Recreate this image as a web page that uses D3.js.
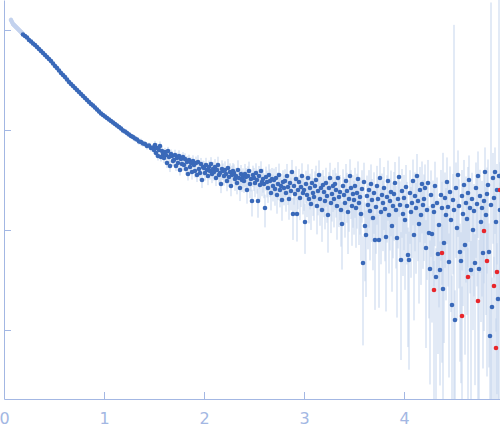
<!DOCTYPE html>
<html>
<head>
<meta charset="utf-8">
<script src="https://cdn.jsdelivr.net/npm/d3@7"></script>
<style>
body { margin: 0; background: #fff; }
.axis path, .axis line { stroke: #a3b7e3; }
.axis text { fill: #a3b7e3; font-size: 16px; font-family: "DejaVu Sans", sans-serif; }
</style>
</head>
<body>
<svg width="500" height="437"></svg>
<script>
//excluded points at the start of the curve (drawn light)
var excludedQ = [0.07,0.08,0.09,0.10,0.11,0.12,0.13,0.14,0.15,0.16,0.17,0.18];
var excludedLogI = [0.10,0.08,0.06,0.05,0.04,0.03,0.02,0.01,0.00,-0.01,-0.02,-0.03];
var excludedErr = [0.06,0.06,0.05,0.05,0.05,0.04,0.04,0.04,0.04,0.03,0.03,0.03];

//main curve: q, log10 intensity, relative error
var q = [
 0.19,0.21,0.23,0.25,0.27,0.29,0.31,0.33,0.35,0.37,0.39,0.41,0.43,0.45,0.47,0.49,0.51,0.53,0.55,0.57,0.59,0.61,
 0.63,0.65,0.67,0.69,0.71,0.73,0.75,0.77,0.79,0.81,0.83,0.85,0.87,0.89,0.91,0.93,0.95,0.97,0.99,1.01,1.03,1.05,
 1.07,1.09,1.11,1.13,1.15,1.17,1.19,1.21,1.23,1.25,1.27,1.29,1.31,1.33,1.35,1.37,1.39,1.41,1.43,1.45,1.47,1.49,
 1.50,1.51,1.52,1.53,1.54,1.55,1.56,1.57,1.58,1.59,
 1.60,1.61,1.62,1.63,1.64,1.65,1.66,1.67,1.68,1.69,
 1.70,1.71,1.72,1.73,1.74,1.75,1.76,1.77,1.78,1.79,
 1.80,1.81,1.82,1.83,1.84,1.85,1.86,1.87,1.88,1.89,
 1.90,1.91,1.92,1.93,1.94,1.95,1.96,1.97,1.98,1.99,
 2.00,2.01,2.02,2.03,2.04,2.05,2.06,2.07,2.08,2.09,
 2.10,2.11,2.12,2.13,2.14,2.15,2.16,2.17,2.18,2.19,
 2.20,2.21,2.22,2.23,2.24,2.25,2.26,2.27,2.28,2.29,
 2.30,2.31,2.32,2.33,2.34,2.35,2.36,2.37,2.38,2.39,
 2.40,2.41,2.42,2.43,2.44,2.45,2.46,2.47,2.48,2.49,
 2.50,2.51,2.52,2.53,2.54,2.55,2.56,2.57,2.58,2.59,
 2.60,2.61,2.62,2.63,2.64,2.65,2.66,2.67,2.68,2.69,
 2.70,2.71,2.72,2.73,2.74,2.75,2.76,2.77,2.78,2.79,
 2.80,2.81,2.82,2.83,2.84,2.85,2.86,2.87,2.88,2.89,
 2.90,2.91,2.92,2.93,2.94,2.95,2.96,2.97,2.98,2.99,
 3.00,3.01,3.02,3.03,3.04,3.05,3.06,3.07,3.08,3.09,
 3.10,3.11,3.12,3.13,3.14,3.15,3.16,3.17,3.18,3.19,
 3.20,3.21,3.22,3.23,3.24,3.25,3.26,3.27,3.28,3.29,
 3.30,3.31,3.32,3.33,3.34,3.35,3.36,3.37,3.38,3.39,
 3.40,3.41,3.42,3.43,3.44,3.45,3.46,3.47,3.48,3.49,
 3.50,3.51,3.52,3.53,3.54,3.55,3.56,3.57,3.58,3.59,
 3.60,3.61,3.62,3.63,3.64,3.65,3.66,3.67,3.68,3.69,
 3.70,3.71,3.72,3.73,3.74,3.75,3.76,3.77,3.78,3.79,
 3.80,3.81,3.82,3.83,3.84,3.85,3.86,3.87,3.88,3.89,
 3.90,3.91,3.92,3.93,3.94,3.95,3.96,3.97,3.98,3.99,
 4.00,4.01,4.02,4.03,4.04,4.05,4.06,4.07,4.08,4.09,
 4.10,4.11,4.12,4.13,4.14,4.15,4.16,4.17,4.18,4.19,
 4.20,4.21,4.22,4.23,4.24,4.25,4.26,4.27,4.28,4.29,
 4.30,4.31,4.32,4.33,4.34,4.35,4.36,4.37,4.38,4.39,
 4.40,4.41,4.42,4.43,4.44,4.45,4.46,4.47,4.48,4.49,
 4.50,4.51,4.52,4.53,4.54,4.55,4.56,4.57,4.58,4.59,
 4.60,4.61,4.62,4.63,4.64,4.65,4.66,4.67,4.68,4.69,
 4.70,4.71,4.72,4.73,4.74,4.75,4.76,4.77,4.78,4.79,
 4.80,4.81,4.82,4.83,4.84,4.85,4.86,4.87,4.88,4.89,
 4.90,4.91,4.92,4.93,4.94,4.95,4.96
];
var logI = [
 -0.045,-0.06,-0.075,-0.1,-0.115,-0.135,-0.15,-0.17,-0.19,-0.21,-0.23,-0.25,-0.27,-0.29,-0.31,-0.335,-0.36,-0.38,-0.405,-0.43,-0.45,-0.47,
 -0.495,-0.52,-0.54,-0.56,-0.58,-0.60,-0.62,-0.64,-0.66,-0.68,-0.70,-0.72,-0.74,-0.755,-0.775,-0.795,-0.815,-0.835,-0.85,-0.865,-0.88,-0.895,
 -0.91,-0.925,-0.94,-0.955,-0.97,-0.985,-1.005,-1.015,-1.03,-1.045,-1.06,-1.07,-1.085,-1.095,-1.115,-1.12,-1.135,-1.14,-1.16,-1.155,-1.18,-1.175,
 -1.20,-1.15,-1.23,-1.18,-1.26,-1.20,-1.16,-1.27,-1.21,-1.24,
 -1.28,-1.22,-1.25,-1.33,-1.21,-1.27,-1.36,-1.24,-1.26,-1.31,
 -1.30,-1.25,-1.36,-1.28,-1.33,-1.26,-1.40,-1.29,-1.34,-1.27,
 -1.35,-1.29,-1.39,-1.32,-1.44,-1.30,-1.37,-1.33,-1.42,-1.31,
 -1.35,-1.41,-1.33,-1.45,-1.32,-1.39,-1.43,-1.34,-1.50,-1.37,
 -1.38,-1.43,-1.35,-1.40,-1.46,-1.37,-1.41,-1.34,-1.44,-1.39,
 -1.42,-1.37,-1.48,-1.40,-1.35,-1.45,-1.43,-1.54,-1.39,-1.41,
 -1.46,-1.40,-1.44,-1.51,-1.38,-1.47,-1.42,-1.56,-1.45,-1.41,
 -1.43,-1.49,-1.46,-1.53,-1.40,-1.48,-1.58,-1.44,-1.50,-1.47,
 -1.51,-1.44,-1.47,-1.60,-1.46,-1.41,-1.54,-1.49,-1.71,-1.45,
 -1.48,-1.53,-1.43,-1.50,-1.71,-1.46,-1.55,-1.41,-1.52,-1.49,
 -1.54,-1.78,-1.47,-1.52,-1.58,-1.45,-1.51,-1.63,-1.49,-1.56,
 -1.50,-1.59,-1.48,-1.65,-1.54,-1.45,-1.60,-1.56,-1.70,-1.52,
 -1.58,-1.51,-1.63,-1.46,-1.57,-1.69,-1.53,-1.61,-1.42,-1.84,
 -1.56,-1.64,-1.49,-1.84,-1.60,-1.52,-1.68,-1.57,-1.46,-1.63,
 -1.60,-1.92,-1.54,-1.65,-1.48,-1.69,-1.58,-1.74,-1.53,-1.63,
 -1.67,-1.56,-1.50,-1.76,-1.61,-1.45,-1.69,-1.58,-1.80,-1.55,
 -1.62,-1.71,-1.53,-1.66,-1.85,-1.58,-1.48,-1.73,-1.64,-1.56,
 -1.69,-1.54,-1.60,-1.76,-1.48,-1.67,-1.62,-1.80,-1.94,-1.56,
 -1.65,-1.73,-1.51,-1.61,-1.82,-1.69,-1.46,-1.58,-1.76,-1.64,
 -1.70,-1.56,-1.78,-1.63,-1.49,-1.73,-1.67,-1.84,-1.59,-2.33,
 -1.52,-1.96,-2.05,-1.66,-1.75,-1.60,-1.81,-1.54,-1.70,-1.88,
 -1.63,-2.10,-1.77,-1.56,-1.69,-2.10,-1.48,-1.82,-1.65,-1.73,
 -1.58,-1.79,-2.07,-1.67,-1.51,-1.85,-1.71,-1.62,-1.96,-1.76,
 -1.64,-1.53,-1.80,-2.08,-1.69,-1.47,-1.75,-2.30,-1.61,-1.84,
 -1.68,-1.90,-1.57,-1.76,-2.25,-2.30,-1.63,-1.82,-1.73,-1.51,
 -2.05,-1.66,-1.78,-1.46,-1.71,-1.94,-1.60,-1.85,-1.54,-1.75,
 -1.69,-1.58,-2.18,-1.80,-1.53,-2.03,-2.39,-1.65,-2.04,-1.76,
 -1.82,-1.56,-2.47,-1.73,-2.24,-1.95,-2.40,-1.65,-1.78,-2.59,
 -2.13,-1.68,-1.85,-1.52,-1.77,-2.32,-1.62,-1.90,-2.75,-1.70,
 -1.80,-2.90,-1.58,-1.98,-1.45,-1.76,-2.22,-2.31,-1.66,-1.84,
 -1.55,-2.15,-1.73,-1.89,-1.63,-1.50,-1.78,-2.40,-1.69,-2.00,
 -1.81,-2.33,-1.58,-1.74,-1.46,-2.39,-1.66,-1.92,-1.78,-2.23,
 -1.71,-1.42,-1.85,-1.64,-1.55,-2.22,-3.06,-1.75,-2.77,-1.48,
 -1.68,-1.42,-1.92,-1.60,-2.69,-1.46,-1.80
];
var relErr = [
 0.02,0.02,0.02,0.02,0.02,0.02,0.02,0.02,0.02,0.02,0.02,0.02,0.03,0.02,0.03,0.02,0.03,0.03,0.02,0.03,0.03,0.03,
 0.03,0.03,0.03,0.04,0.03,0.03,0.04,0.03,0.04,0.04,0.04,0.04,0.04,0.05,0.04,0.04,0.05,0.04,0.05,0.05,0.05,0.05,
 0.05,0.06,0.05,0.06,0.05,0.06,0.06,0.06,0.07,0.06,0.06,0.07,0.07,0.06,0.07,0.08,0.07,0.07,0.08,0.07,0.08,0.08,
 0.09,0.10,0.09,0.11,0.10,0.09,0.11,0.10,0.12,0.10,
 0.11,0.10,0.12,0.11,0.10,0.12,0.13,0.11,0.12,0.11,
 0.12,0.13,0.11,0.13,0.12,0.14,0.12,0.13,0.14,0.12,
 0.13,0.14,0.13,0.15,0.14,0.13,0.15,0.14,0.16,0.14,
 0.15,0.14,0.16,0.15,0.17,0.15,0.16,0.15,0.17,0.16,
 0.17,0.16,0.18,0.17,0.19,0.16,0.18,0.17,0.19,0.18,
 0.18,0.20,0.17,0.19,0.21,0.18,0.20,0.19,0.22,0.19,
 0.20,0.22,0.19,0.21,0.23,0.20,0.22,0.21,0.24,0.20,
 0.22,0.24,0.21,0.23,0.25,0.22,0.26,0.23,0.24,0.22,
 0.24,0.26,0.23,0.27,0.25,0.24,0.28,0.25,0.30,0.24,
 0.26,0.28,0.25,0.27,0.32,0.26,0.29,0.25,0.28,0.27,
 0.28,0.36,0.27,0.30,0.29,0.28,0.31,0.33,0.29,0.30,
 0.30,0.32,0.29,0.35,0.31,0.30,0.33,0.32,0.38,0.31,
 0.33,0.31,0.35,0.32,0.34,0.38,0.33,0.36,0.32,0.45,
 0.35,0.37,0.34,0.47,0.36,0.35,0.40,0.37,0.34,0.39,
 0.38,0.52,0.36,0.40,0.37,0.43,0.39,0.45,0.38,0.41,
 0.42,0.40,0.39,0.48,0.43,0.40,0.46,0.42,0.52,0.41,
 0.44,0.48,0.42,0.46,0.58,0.44,0.42,0.50,0.47,0.45,
 0.48,0.45,0.47,0.54,0.44,0.50,0.48,0.57,0.65,0.47,
 0.50,0.55,0.48,0.52,0.62,0.53,0.47,0.51,0.60,0.54,
 0.55,0.52,0.60,0.56,0.50,0.62,0.58,0.66,0.54,0.85,
 0.56,0.72,0.76,0.60,0.64,0.58,0.68,0.57,0.62,0.70,
 0.61,0.80,0.66,0.59,0.63,0.79,0.58,0.70,0.64,0.67,
 0.62,0.70,0.82,0.65,0.60,0.74,0.68,0.64,0.78,0.70,
 0.66,0.62,0.74,0.84,0.68,0.60,0.72,0.90,0.66,0.76,
 0.70,0.80,0.66,0.74,0.88,0.92,0.69,0.78,0.72,0.64,
 0.86,0.72,0.78,0.66,0.75,0.84,0.70,0.80,0.68,0.77,
 0.76,0.72,0.90,0.80,0.70,0.86,0.93,0.76,0.87,0.80,
 0.82,0.75,0.94,0.80,0.90,0.85,0.93,0.78,0.83,22,
 0.90,0.80,0.86,0.76,0.84,0.93,0.80,0.88,0.97,0.82,
 70,0.98,0.80,0.88,0.76,0.85,0.92,0.94,0.82,0.88,
 0.78,0.92,0.84,0.89,0.82,0.76,0.86,0.95,0.83,0.90,
 0.86,0.94,0.80,0.85,0.76,0.95,0.83,0.90,0.87,0.93,
 0.85,0.76,0.90,0.84,0.80,0.93,0.99,105,0.97,0.78,
 0.84,0.76,0.92,0.82,0.97,120,0.88
];

//flagged points (drawn red)
var flaggedQ = [4.30,4.38,4.58,4.64,4.74,4.80,4.83,4.90,4.92,4.93,4.96];
var flaggedLogI = [-2.60,-2.23,-2.86,-2.47,-2.71,-2.01,-2.31,-2.56,-3.18,-2.42,-1.60];
var flaggedErr = [0.95,0.92,0.97,0.94,0.96,0.90,0.93,0.96,0.98,0.94,0.90];

var xTicks = [0,1,2,3,4];
var yTicks = [1,0.1,0.01,0.001];

var svg = d3.select("svg");
var bottom = 399;

var x = d3.scaleLinear().domain([0, 4.96]).range([4, 500]);
var y = d3.scaleLog().domain([Math.pow(10,-3.69), Math.pow(10,0.30)]).range([bottom, 0]);

var makeRows = function(qs, ls, es){
    return qs.map(function(d, i){
	var I = Math.pow(10, ls[i]);
	return {q: d, I: I, err: I*es[i]};
    });
};
var excluded = makeRows(excludedQ, excludedLogI, excludedErr);
var main = makeRows(q, logI, relErr);
var flagged = makeRows(flaggedQ, flaggedLogI, flaggedErr);

svg.append("clipPath").attr("id","plot")
    .append("rect").attr("x",4).attr("y",0).attr("width",496).attr("height",bottom);

//axes
svg.append("g").attr("class","axis")
    .attr("transform","translate(0,"+bottom+")")
    .call(d3.axisBottom(x).tickValues(xTicks).tickSizeInner(-7).tickSizeOuter(0)
	  .tickPadding(14).tickFormat(d3.format("d")));
svg.append("g").attr("class","axis")
    .attr("transform","translate(4,0)")
    .call(d3.axisRight(y).tickValues(yTicks).tickSizeInner(7).tickSizeOuter(0).tickFormat(""));

var plot = svg.append("g").attr("clip-path","url(#plot)");

var lowY = function(d){ var v = d.I - d.err; return v > 0 ? y(v) : bottom + 10; };

plot.selectAll("line.err")
    .data(excluded.concat(main, flagged))
    .enter().append("line")
    .attr("class","err")
    .attr("x1", function(d){ return x(d.q); })
    .attr("x2", function(d){ return x(d.q); })
    .attr("y1", function(d){ return y(d.I + d.err); })
    .attr("y2", lowY)
    .style("stroke","#c5d5ed")
    .style("stroke-width",1);

var dots = function(data, color){
    plot.append("g").selectAll("circle")
	.data(data)
	.enter().append("circle")
	.attr("cx", function(d){ return x(d.q); })
	.attr("cy", function(d){ return y(d.I); })
	.attr("r", 2.3)
	.style("fill", color);
};
dots(excluded, "#c3d2ee");
dots(main, "#3a69b9");
dots(flagged, "#e8262b");
</script>
</body>
</html>
